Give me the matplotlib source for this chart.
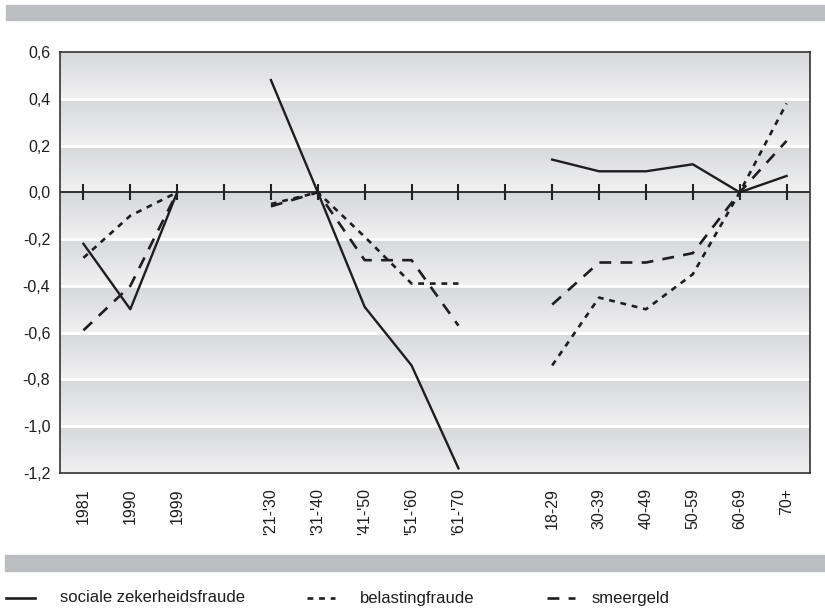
import matplotlib
matplotlib.use("Agg")
import matplotlib.pyplot as plt
import numpy as np
from matplotlib.colors import LinearSegmentedColormap
from matplotlib.lines import Line2D
from matplotlib.patches import Rectangle

plt.rcParams['font.family'] = ['Liberation Sans', 'DejaVu Sans']

# categories: survey year, birth cohort, age group (blank slots separate the groups)
labels = ['1981', '1990', '1999', '',
          "'21-'30", "'31-'40", "'41-'50", "'51-'60", "'61-'70", '',
          '18-29', '30-39', '40-49', '50-59', '60-69', '70+']

# values per group
soc_year = [-0.22, -0.50, 0.0]
soc_cohort = [0.48, 0.0, -0.49, -0.74, -1.18]
soc_age = [0.14, 0.09, 0.09, 0.12, 0.0, 0.07]

bel_year = [-0.28, -0.10, 0.0]
bel_cohort = [-0.05, 0.0, -0.19, -0.39, -0.39]
bel_age = [-0.74, -0.45, -0.50, -0.35, 0.0, 0.38]

sme_year = [-0.59, -0.40, 0.0]
sme_cohort = [-0.06, 0.0, -0.29, -0.29, -0.57]
sme_age = [-0.48, -0.30, -0.30, -0.26, 0.0, 0.22]

yticks = [0.6, 0.4, 0.2, 0.0, -0.2, -0.4, -0.6, -0.8, -1.0, -1.2]

W, H = 825, 609
fig = plt.figure(figsize=(W / 100, H / 100), dpi=100)
ax = fig.add_axes([60 / W, 1 - 473 / H, 750 / W, 421 / H])

x_year = [0, 1, 2]
x_cohort = [4, 5, 6, 7, 8]
x_age = [10, 11, 12, 13, 14, 15]

# gradient background bands
cmap = LinearSegmentedColormap.from_list('band', ['#f1f1f2', '#d7d8da'])
grad = np.linspace(0, 1, 60).reshape(-1, 1)
for y0 in np.arange(-1.2, 0.6, 0.2):
    ax.imshow(grad, extent=[-0.5, 15.5, y0, y0 + 0.2], origin='lower',
              aspect='auto', cmap=cmap, zorder=0)
for yb in yticks[1:-1]:
    if abs(yb) > 1e-9:
        ax.axhline(yb, color='white', lw=2, zorder=1)

ax.axhline(0, color='#222222', lw=1.3, zorder=2)
ax.plot(range(16), np.zeros(16), ls='none', marker='|', ms=12, mew=1.5,
        color='#222222', zorder=2)

col = '#1e1e1e'
dot = (0, (2.2, 2.2))
dash = (0, (4.5, 3.5))
for xs, ys in [(x_year, soc_year), (x_cohort, soc_cohort), (x_age, soc_age)]:
    ax.plot(xs, ys, color=col, lw=1.7, zorder=3)
for xs, ys in [(x_year, bel_year), (x_cohort, bel_cohort), (x_age, bel_age)]:
    ax.plot(xs, ys, color=col, lw=1.9, ls=dot, zorder=3)
for xs, ys in [(x_year, sme_year), (x_cohort, sme_cohort), (x_age, sme_age)]:
    ax.plot(xs, ys, color=col, lw=1.9, ls=dash, zorder=3)

ax.set_xlim(-0.5, 15.5)
ax.set_ylim(-1.2, 0.6)
ax.set_xticks(range(16))
ax.set_xticklabels(labels, rotation=90, va='top', fontsize=11.5, color='#1e1e1e')
ax.set_yticks(yticks)
ax.set_yticklabels([('%.1f' % v).replace('.', ',') for v in yticks],
                   fontsize=11.5, color='#1e1e1e')
ax.tick_params(axis='x', length=0, pad=11)
ax.tick_params(axis='y', length=0, pad=7)
for s in ax.spines.values():
    s.set_color('#333333')
    s.set_linewidth(1.2)

# gray bands above and below
fig.patches.append(Rectangle((6 / W, 1 - 20 / H), 1 - 6 / W, 15 / H,
                             transform=fig.transFigure, color='#bcbdc0'))
fig.patches.append(Rectangle((5 / W, 1 - 571 / H), 1 - 5 / W, 16 / H,
                             transform=fig.transFigure, color='#bcbdc0'))

# legend
ly = 1 - 598 / H
for (x0, x1), ls, txt, tx in [((6, 35), '-', 'sociale zekerheidsfraude', 60),
                              ((307, 335), dot, 'belastingfraude', 360),
                              ((547, 575), dash, 'smeergeld', 592)]:
    fig.add_artist(Line2D([x0 / W, x1 / W], [ly, ly], color=col,
                          lw=1.9, ls=ls, transform=fig.transFigure))
    fig.text(tx / W, ly, txt, fontsize=12, va='center', ha='left',
             color='#1e1e1e')

fig.savefig('out.png', dpi=100)
